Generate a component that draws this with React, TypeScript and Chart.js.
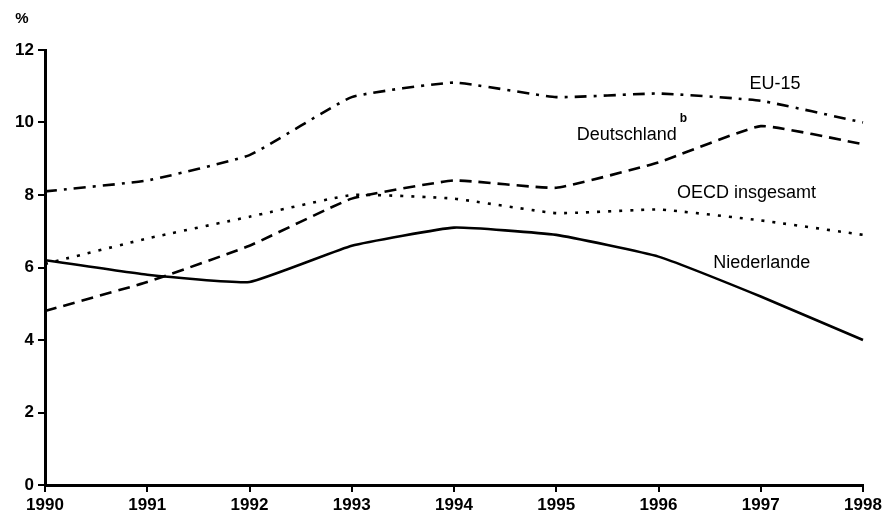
import React, { useEffect, useRef } from "react";
import { Chart, registerables } from "chart.js";

Chart.register(...registerables);

const years = ["1990", "1991", "1992", "1993", "1994", "1995", "1996", "1997", "1998"];
const niederlande = [6.2, 5.8, 5.6, 6.6, 7.1, 6.9, 6.3, 5.2, 4.0];
const deutschland = [4.8, 5.6, 6.6, 7.9, 8.4, 8.2, 8.9, 9.9, 9.4];
const eu15 = [8.1, 8.4, 9.1, 10.7, 11.1, 10.7, 10.8, 10.6, 10.0];
const oecd = [6.1, 6.8, 7.4, 8.0, 7.9, 7.5, 7.6, 7.3, 6.9];
const yTicks = [0, 2, 4, 6, 8, 10, 12];

// series labels: [text, x (year index), y (value), superscript]
const seriesLabels: [string, number, number, string][] = [
  ["EU-15", 7.14, 11.06, ""],
  ["Deutschland", 5.69, 9.66, "b"],
  ["OECD insgesamt", 6.86, 8.06, ""],
  ["Niederlande", 7.01, 6.12, ""],
];

const FONT = "'Liberation Sans', Arial, sans-serif";

const labelPlugin = {
  id: "seriesLabels",
  afterDatasetsDraw(chart: any) {
    const { ctx, scales } = chart;
    const xs = scales.x;
    const ys = scales.y;
    ctx.save();
    ctx.fillStyle = "#000";
    ctx.textBaseline = "middle";
    ctx.textAlign = "center";
    for (const [t, xi, yv, sup] of seriesLabels) {
      const px = xs.left + (xs.right - xs.left) * (xi / (years.length - 1));
      const py = ys.getPixelForValue(yv);
      ctx.font = `18px ${FONT}`;
      ctx.fillText(t, px, py);
      if (sup) {
        const w = ctx.measureText(t).width;
        ctx.font = `bold 12px ${FONT}`;
        ctx.textAlign = "left";
        ctx.fillText(sup, px + w / 2 + 3, py - 16);
        ctx.textAlign = "center";
      }
    }
    ctx.font = `bold 15px ${FONT}`;
    ctx.textAlign = "center";
    ctx.fillText("%", 22, 19);
    ctx.restore();
  },
};

export default function App() {
  const ref = useRef<HTMLCanvasElement>(null);
  useEffect(() => {
    document.body.style.margin = "0";
    const common = { borderColor: "#000", pointRadius: 0, tension: 0.12, fill: false, borderWidth: 2.6 };
    const chart = new Chart(ref.current!, {
      type: "line",
      data: {
        labels: years,
        datasets: [
          { label: "Niederlande", data: niederlande, ...common },
          { label: "Deutschland", data: deutschland, ...common, borderDash: [12, 7] },
          { label: "EU-15", data: eu15, ...common, borderDash: [12, 7, 3, 7] },
          { label: "OECD insgesamt", data: oecd, ...common, borderDash: [3, 8] },
        ],
      },
      options: {
        responsive: false,
        animation: false,
        layout: { padding: { top: 50, right: 24, left: 0, bottom: 0 } },
        plugins: { legend: { display: false }, tooltip: { enabled: false } },
        scales: {
          x: {
            offset: false,
            grid: { display: true, drawOnChartArea: false, drawTicks: true, tickLength: 7, color: "#000", lineWidth: 2 },
            border: { color: "#000", width: 3 },
            ticks: { color: "#000", font: { family: FONT, size: 17, weight: "bold" }, padding: 3, maxRotation: 0, autoSkip: false },
            afterFit: (s: any) => { s.height = 35; },
          },
          y: {
            min: 0,
            max: 12,
            afterBuildTicks: (s: any) => { s.ticks = yTicks.map((v) => ({ value: v })); },
            grid: { display: true, drawOnChartArea: false, drawTicks: true, tickLength: 7, color: "#000", lineWidth: 2 },
            border: { color: "#000", width: 3 },
            ticks: { color: "#000", font: { family: FONT, size: 17, weight: "bold" }, padding: 4 },
            afterFit: (s: any) => { s.width = 45; },
          },
        },
      },
      plugins: [labelPlugin],
    });
    return () => chart.destroy();
  }, []);
  return <canvas ref={ref} width={887} height={520} style={{ display: "block" }} />;
}
